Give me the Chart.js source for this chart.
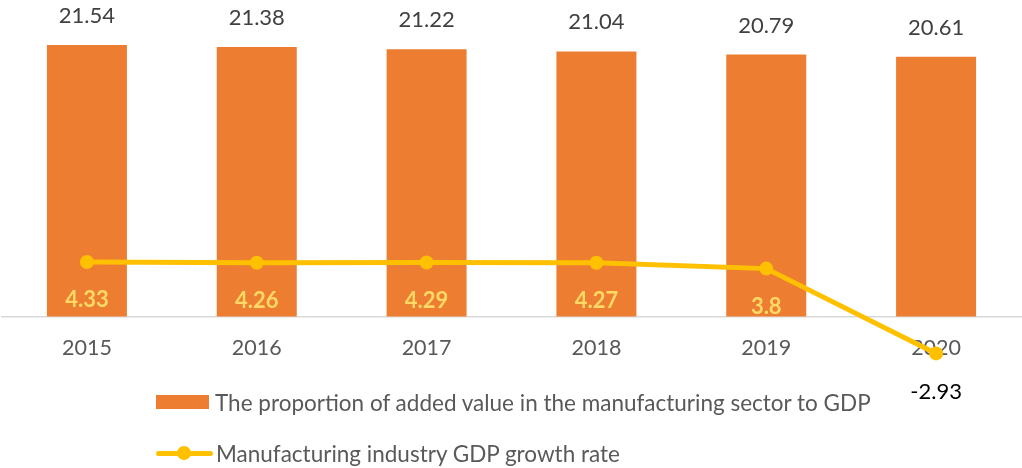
<!DOCTYPE html>
<html>
<head>
<meta charset="utf-8">
<script src="https://cdn.jsdelivr.net/npm/chart.js@4.4.1/dist/chart.umd.min.js"></script>
<style>
  body { margin: 0; background: #fff; }
  #wrap { position: relative; width: 1022px; height: 468px; }
  .leg { position: absolute; left: 156px; font-family: Lato, sans-serif; font-size: 22.5px; color: #595959; white-space: nowrap; }
  .leg span { display: inline-block; vertical-align: middle; }
</style>
</head>
<body>
<div id="wrap">
  <canvas id="grafico" width="1022" height="468"></canvas>
  <div class="leg" id="leg1" style="top:386px"></div>
  <div class="leg" id="leg2" style="top:437px"></div>
</div>
<script>
// datos del gráfico
const anios = ['2015', '2016', '2017', '2018', '2019', '2020'];
const proporcion = [21.54, 21.38, 21.22, 21.04, 20.79, 20.61];
const crecimiento = [4.33, 4.26, 4.29, 4.27, 3.8, -2.93];
const nombreBarras = 'The proportion of added value in the manufacturing sector to GDP';
const nombreLinea = 'Manufacturing industry GDP growth rate';

const naranja = '#ED7D31';
const amarillo = '#FFC000';

// etiquetas de valores (no hay plugin datalabels)
const etiquetas = {
  id: 'etiquetas',
  afterDatasetsDraw(chart) {
    const ctx = chart.ctx;
    ctx.save();
    ctx.textAlign = 'center';
    ctx.textBaseline = 'middle';
    // barras: encima
    chart.getDatasetMeta(0).data.forEach((bar, i) => {
      ctx.font = '22px Lato, sans-serif';
      ctx.fillStyle = '#404040';
      ctx.fillText(proporcion[i].toString(), bar.x, bar.y - 29);
    });
    // línea: debajo del punto
    chart.getDatasetMeta(1).data.forEach((pt, i) => {
      if (crecimiento[i] < 0) {
        ctx.font = '22px Lato, sans-serif';
        ctx.fillStyle = '#000000';
      } else {
        ctx.font = 'bold 22px Lato, sans-serif';
        ctx.fillStyle = '#FFD966';
      }
      ctx.fillText(crecimiento[i].toString(), pt.x, pt.y + 38);
    });
    ctx.restore();
  }
};

const ctx = document.getElementById('grafico').getContext('2d');
new Chart(ctx, {
  type: 'bar',
  data: {
    labels: anios,
    datasets: [{
      label: nombreBarras,
      data: proporcion,
      backgroundColor: naranja,
      barPercentage: 0.471,
      categoryPercentage: 1,
      order: 2
    }, {
      type: 'line',
      label: nombreLinea,
      data: crecimiento,
      borderColor: amarillo,
      backgroundColor: amarillo,
      borderWidth: 5,
      pointRadius: 7,
      pointHoverRadius: 7,
      pointBorderWidth: 0,
      tension: 0,
      clip: false,
      order: 1
    }]
  },
  options: {
    responsive: false,
    animation: false,
    layout: { autoPadding: false, padding: { left: 2, right: 1, top: 1.5, bottom: 88.5 } },
    scales: {
      x: {
        position: { y: 0 },
        grid: { display: false, drawTicks: false },
        border: { display: true, color: '#D9D9D9', width: 1.5 },
        ticks: {
          color: '#595959',
          font: { family: 'Lato, sans-serif', size: 21.5 },
          padding: 19
        }
      },
      y: {
        display: false,
        min: -5,
        max: 25
      }
    },
    plugins: {
      legend: { display: false },
      tooltip: { enabled: false }
    }
  },
  plugins: [etiquetas]
});

// leyenda en HTML
document.getElementById('leg1').innerHTML =
  '<span style="width:53px;height:14px;background:' + naranja + ';margin-right:6px"></span><span>' + nombreBarras + '</span>';
document.getElementById('leg2').innerHTML =
  '<span style="position:relative;width:57px;height:14px;margin-right:3px">' +
  '<span style="position:absolute;left:0;top:5px;width:57px;height:5px;background:' + amarillo + ';border-radius:3px"></span>' +
  '<span style="position:absolute;left:21px;top:0;width:14px;height:14px;background:' + amarillo + ';border-radius:50%"></span>' +
  '</span><span>' + nombreLinea + '</span>';
</script>
</body>
</html>
